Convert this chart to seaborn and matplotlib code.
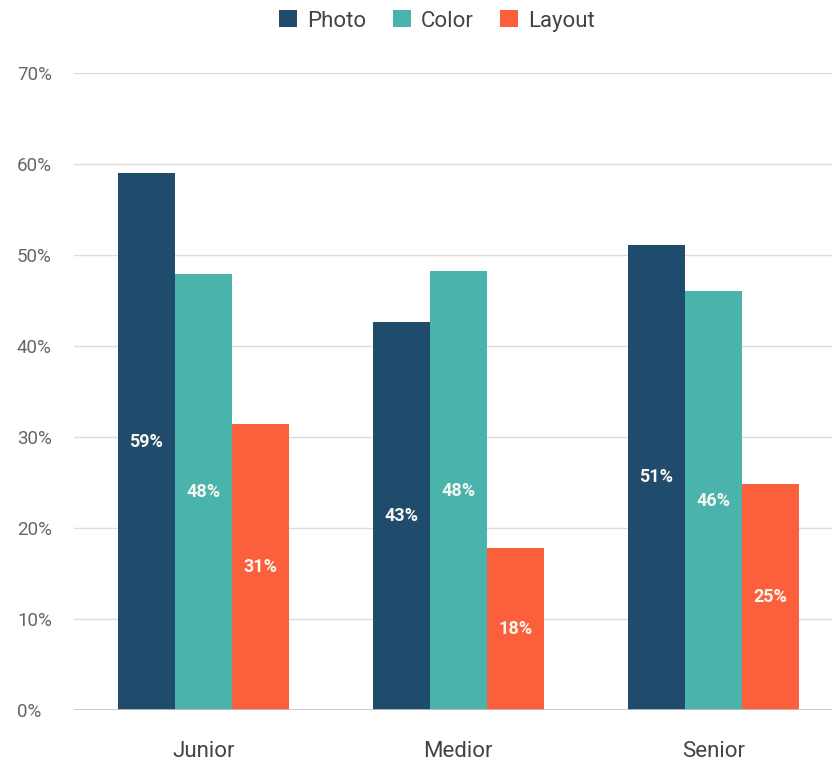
import matplotlib
matplotlib.use("Agg")
import matplotlib.pyplot as plt
from matplotlib.ticker import FuncFormatter
import seaborn as sns
import pandas as pd

levels = ["Junior", "Medior", "Senior"]
series = ["Photo", "Color", "Layout"]
photo = [59.0, 42.6, 51.1]
color = [47.9, 48.2, 46.0]
layout = [31.4, 17.8, 24.8]
palette = ["#1f4c6d", "#4ab3ac", "#fb5f3c"]
yticks = [0, 10, 20, 30, 40, 50, 60, 70]

df = pd.DataFrame({
    "level": levels * 3,
    "series": [s for s in series for _ in levels],
    "share": photo + color + layout,
})

sns.set_theme(style="white")
plt.rcParams["font.family"] = ["Roboto", "DejaVu Sans"]

fig = plt.figure(figsize=(8.32, 7.65), dpi=100)
ax = fig.add_axes([74 / 832, 1 - 710 / 765, (832 - 74) / 832, (710 - 73) / 765])

sns.barplot(data=df, x="level", y="share", hue="series", order=levels,
            hue_order=series, palette=palette, width=0.67, gap=0,
            saturation=1, linewidth=0, ax=ax)

ax.set_ylim(0, 70)
ax.set_xlim(-0.507, 2.466)
ax.set_yticks(yticks)
ax.yaxis.set_major_formatter(FuncFormatter(lambda v, _: f"{v:.0f}%"))
ax.grid(axis="y", color="#dcdcdc", linewidth=1)
ax.set_axisbelow(True)
for s in ax.spines.values():
    s.set_visible(False)
ax.axhline(0, color="#c4c4c4", linewidth=1.2, zorder=3)
ax.set_xlabel("")
ax.set_ylabel("")
ax.tick_params(axis="y", length=0, pad=18, labelsize=13.5, labelcolor="#666666")
ax.tick_params(axis="x", length=0, pad=22, labelsize=16, labelcolor="#444444")
for lbl in ax.get_yticklabels():
    lbl.set_horizontalalignment("left")
    lbl.set_x(-74 / 758 + 17 / 758)
ax.tick_params(axis="y", pad=0)

for cont in ax.containers:
    ax.bar_label(cont, label_type="center", fmt="%.0f%%", color="#f8f6f0",
                 fontsize=13, fontweight="bold")

handles, labels = ax.get_legend_handles_labels()
ax.legend(handles, labels, loc="center", bbox_to_anchor=(437 / 832, 1 - 21 / 765),
          bbox_transform=fig.transFigure, ncol=3, frameon=False,
          fontsize=16, labelcolor="#444444", handlelength=0.8, handleheight=0.8,
          handletextpad=0.45, columnspacing=1.2)

fig.savefig("out.png", dpi=100, facecolor="white")
